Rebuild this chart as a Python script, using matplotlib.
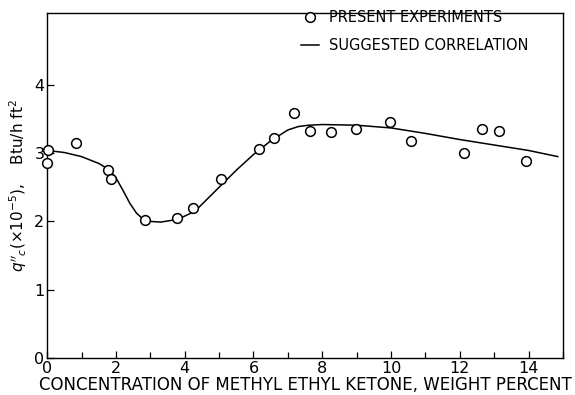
import matplotlib
matplotlib.use("Agg")
import matplotlib.pyplot as plt
from matplotlib.ticker import MultipleLocator

# Experimental data
exp_x = [0.03, 0.0, 0.83, 1.76, 1.86, 2.85, 3.77, 4.25, 5.05, 6.16, 6.59, 7.17,
         7.65, 8.26, 8.98, 9.96, 10.58, 12.12, 12.66, 13.15, 13.94]
exp_y = [3.04, 2.85, 3.15, 2.75, 2.62, 2.02, 2.05, 2.19, 2.62, 3.06, 3.22, 3.59,
         3.32, 3.31, 3.36, 3.45, 3.18, 3.00, 3.36, 3.32, 2.89]

# Suggested correlation curve
corr_x = [0.0, 0.5, 1.0, 1.5, 1.8, 2.0, 2.2, 2.4, 2.6, 2.8, 3.0, 3.3, 3.8, 4.3,
          5.0, 5.5, 6.0, 6.5, 7.0, 7.3, 7.6, 8.0, 9.0, 10.0, 11.0, 12.0, 13.0,
          14.0, 14.85]
corr_y = [3.04, 3.01, 2.95, 2.85, 2.76, 2.64, 2.46, 2.27, 2.12, 2.03, 2.00, 1.99,
          2.03, 2.15, 2.50, 2.75, 2.98, 3.18, 3.34, 3.39, 3.41, 3.42, 3.41, 3.37,
          3.29, 3.20, 3.12, 3.04, 2.95]

x_ticks = [0, 2, 4, 6, 8, 10, 12, 14]
y_ticks = [0, 1, 2, 3, 4]

fig = plt.figure(figsize=(5.75, 3.95), dpi=100)
ax = fig.add_axes([0.082, 0.094, 0.897, 0.874])

ax.plot(corr_x, corr_y, color="black", lw=1.1, label="SUGGESTED CORRELATION")
ax.plot(exp_x, exp_y, linestyle="none", marker="o", markersize=7,
        markerfacecolor="white", markeredgecolor="black", markeredgewidth=1.1,
        label="PRESENT EXPERIMENTS", zorder=3, clip_on=False)

ax.set_xlim(0, 15)
ax.set_ylim(0, 5.06)
ax.set_xticks(x_ticks)
ax.set_yticks(y_ticks)
ax.xaxis.set_minor_locator(MultipleLocator(1))
ax.tick_params(axis="both", which="both", direction="in", labelsize=11.5,
               top=False, right=False)
ax.tick_params(axis="both", which="major", length=5, width=0.9, pad=2)
ax.tick_params(axis="x", which="minor", length=4, width=0.9)

for s in ax.spines.values():
    s.set_linewidth(1.0)

ax.set_xlabel("CONCENTRATION OF METHYL ETHYL KETONE, WEIGHT PERCENT",
              fontsize=12, labelpad=0)
ax.set_ylabel(r"$q''_c$(×10$^{-5}$),    Btu/h ft$^2$", fontsize=11, labelpad=4)

handles, labels = ax.get_legend_handles_labels()
ax.legend(handles[::-1], labels[::-1], loc="upper left",
          bbox_to_anchor=(0.49, 1.012), frameon=False, fontsize=10.5,
          borderaxespad=0.0, borderpad=0.1,
          handlelength=1.2, handletextpad=0.7, labelspacing=0.9)

fig.savefig("out.png", dpi=100)
